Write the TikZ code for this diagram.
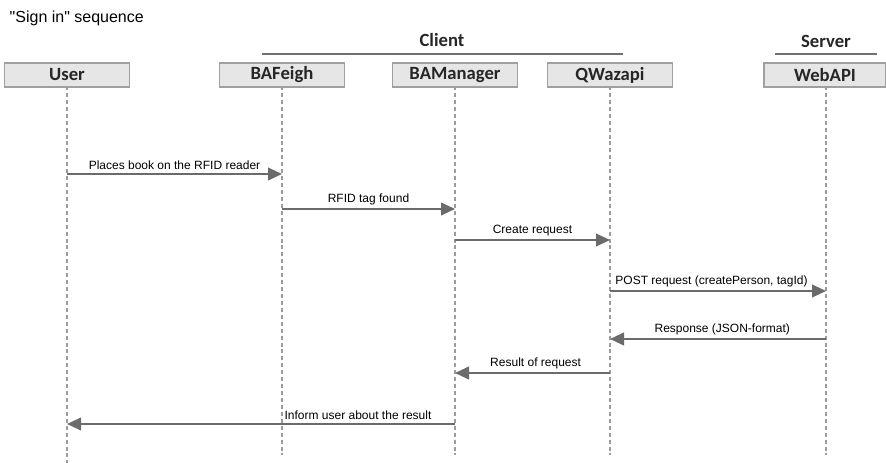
\documentclass[tikz,border=0pt]{standalone}
\usepackage{fontspec}
\setmainfont{Liberation Sans}
\newfontfamily\boxfont{Carlito}
\usetikzlibrary{arrows.meta}
\definecolor{boxfill}{HTML}{E6E6E6}
\definecolor{boxline}{HTML}{A0A0A0}
\definecolor{msggray}{HTML}{6B6B6B}
\definecolor{lifegray}{HTML}{9C9C9C}
\definecolor{grpgray}{HTML}{707070}
\definecolor{textdark}{HTML}{262626}

\begin{document}
\begin{tikzpicture}[x=0.75pt, y=-0.75pt, >={Triangle[length=10.5pt,width=9.5pt]}]
      \tikzstyle{actor} = [draw=boxline, line width=1.2pt, fill=boxfill, minimum width=93.75pt, minimum height=18pt, inner sep=0pt, text=textdark, font=\boxfont\bfseries\fontsize{14}{16}\selectfont]
      \tikzstyle{group} = [text=textdark, font=\boxfont\bfseries\fontsize{14}{16}\selectfont]
      \tikzstyle{life} = [draw=lifegray, line width=0.9pt, dash pattern=on 3pt off 2.2pt]
      \tikzstyle{msg} = [draw=msggray, line width=1.5pt, ->]
      \tikzstyle{lbl} = [text=black, inner sep=2.5pt, font=\fontsize{9}{10}\selectfont]
      \useasboundingbox (0,0) rectangle (886,463);
      \node[anchor=west, text=black, font=\fontsize{12}{14}\selectfont] (title) at (5,18) {\textquotedbl Sign in\textquotedbl{} sequence};
      % groups
      \node[group] (client) at (442,40) {Client};
      \node[group] (server) at (826,41) {Server};
      \coordinate (client-l) at (262,54);
      \coordinate (client-r) at (623,54);
      \coordinate (server-l) at (775,54);
      \coordinate (server-r) at (877,54);
      \draw[grpgray, line width=1.2pt] (client-l) -- (client-r) (server-l) -- (server-r);
      % lifelines
      \foreach \a/\x/\e in {user/67/463, bafeigh/282/455, bamanager/455/455, qwazapi/610/455, webapi/826/455}
      {
	\coordinate (\a-top) at (\x,86);
	\coordinate (\a-end) at (\x,\e);
	\draw[life] (\a-top) -- (\a-end);
      }
      \node[actor] (user) at (67,75) {User};
      \node[actor] (bafeigh) at (282,75) {BAFeigh};
      \node[actor] (bamanager) at (455,75) {BAManager};
      \node[actor] (qwazapi) at (610,75) {QWazapi};
      \node[actor, minimum width=91.5pt] (webapi) at (825,75) {WebAPI};
      % messages
      \foreach \n/\f/\t/\y in {1/67/282/174, 2/282/455/209, 3/455/610/240, 4/610/826/291, 5/826/610/339, 6/610/455/373, 7/455/67/424}
      {
	\coordinate (m\n-from) at (\f,\y);
	\coordinate (m\n-to) at (\t,\y);
      }
      \path
	(m1-from) edge[msg] node[lbl, above] {Places book on the RFID reader} (m1-to)
	(m2-from) edge[msg] node[lbl, above] {RFID tag found} (m2-to)
	(m3-from) edge[msg] node[lbl, above] {Create request} (m3-to)
	(m4-from) edge[msg] node[lbl, above, pos=0.47] {POST request (createPerson, tagId)} (m4-to)
	(m5-from) edge[msg] node[lbl, above, pos=0.48] {Response (JSON-format)} (m5-to)
	(m6-from) edge[msg] node[lbl, above, pos=0.48] {Result of request} (m6-to)
	(m7-from) edge[msg] node[lbl, above, pos=0.25] {Inform user about the result} (m7-to)
	;
    \end{tikzpicture}
\end{document}
